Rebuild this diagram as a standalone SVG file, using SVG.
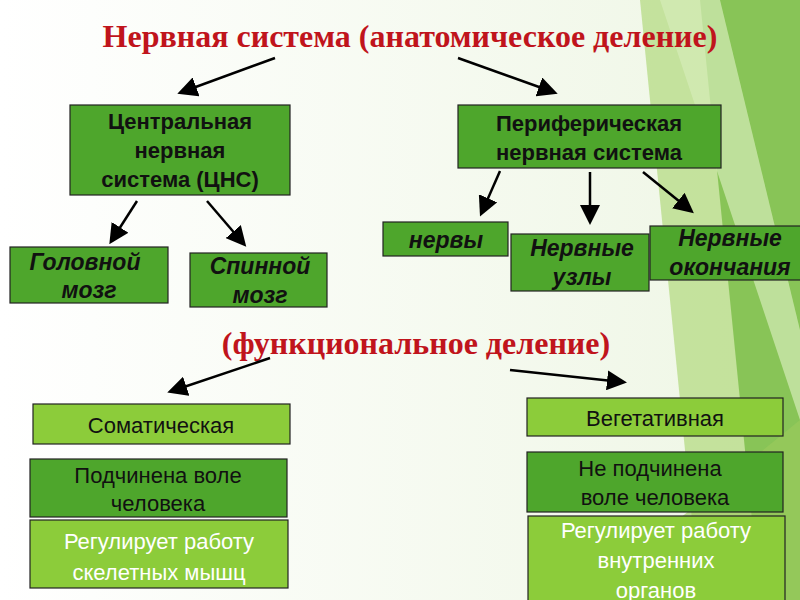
<svg xmlns="http://www.w3.org/2000/svg" width="800" height="600" viewBox="0 0 800 600">
<defs>
<marker id="ah" markerWidth="8" markerHeight="8" refX="6" refY="4" orient="auto" markerUnits="strokeWidth"><path d="M0,0 L8,4 L0,8 Z" fill="#000"/></marker>
<linearGradient id="bg" x1="0" y1="0" x2="1" y2="0"><stop offset="0" stop-color="#fff"/><stop offset="1" stop-color="#eef6e4"/></linearGradient>
</defs>
<style>
.t{font-family:"Liberation Serif",serif;font-weight:bold;fill:#c0141c;font-size:32px;text-anchor:middle}
.b{stroke:#222;stroke-width:1.2}
.g{fill:#4ea62c}.l{fill:#8ccc3a}
.n{font-family:"Liberation Sans",Arial,sans-serif;font-weight:bold;font-size:22px;fill:#111;text-anchor:middle}
.i{font-family:"Liberation Sans",Arial,sans-serif;font-weight:bold;font-style:italic;font-size:23px;fill:#111;text-anchor:middle}
.r{font-family:"Liberation Sans",Arial,sans-serif;font-size:22px;fill:#111;text-anchor:middle}
.w{fill:#fff}
.c line{stroke:#000;stroke-width:2.5;marker-end:url(#ah)}
</style>
<rect width="800" height="600" fill="url(#bg)"/>
<polygon points="640,0 800,0 800,600 700,600" fill="#a6d36a" opacity="0.6"/>
<polygon points="700,0 800,0 800,600 760,600" fill="#6fb83a" opacity="0.7"/>
<polygon points="660,0 720,0 800,330 800,420" fill="#d6ecb8" opacity="0.7"/>
<polygon points="580,600 800,420 800,600" fill="#9ccc5c" opacity="0.6"/>
<text class="t" x="410" y="47">Нервная система (анатомическое деление)</text>
<text class="t" x="416" y="354">(функциональное деление)</text>
<g class="c">
<line x1="275" y1="58" x2="182" y2="92"/>
<line x1="458" y1="58" x2="553" y2="92"/>
<line x1="137" y1="201" x2="112" y2="240"/>
<line x1="207" y1="201" x2="243" y2="243"/>
<line x1="500" y1="171" x2="482" y2="212"/>
<line x1="590" y1="172" x2="590" y2="220"/>
<line x1="643" y1="172" x2="690" y2="210"/>
<line x1="270" y1="358" x2="172" y2="391"/>
<line x1="510" y1="370" x2="622" y2="382"/>
</g>
<g id="cns"><rect class="b g" x="70" y="105" width="220" height="90"/><text class="n" x="180" y="129">Центральная</text><text class="n" x="180" y="158">нервная</text><text class="n" x="180" y="187">система (ЦНС)</text></g>
<g id="pns"><rect class="b g" x="458" y="105" width="263" height="63"/><text class="n" x="589" y="131">Периферическая</text><text class="n" x="589" y="160">нервная система</text></g>
<g id="brain"><rect class="b g" x="10" y="247" width="158" height="56"/><text class="i" x="85" y="270">Головной</text><text class="i" x="89" y="298">мозг</text></g>
<g id="spine"><rect class="b g" x="190" y="253" width="137" height="54"/><text class="i" x="260" y="274">Спинной</text><text class="i" x="260" y="303">мозг</text></g>
<g id="nerves"><rect class="b g" x="383" y="222" width="125" height="34"/><text class="i" x="446" y="248">нервы</text></g>
<g id="ganglia"><rect class="b g" x="511" y="234" width="138" height="57"/><text class="i" x="582" y="256">Нервные</text><text class="i" x="582" y="285">узлы</text></g>
<g id="endings"><rect class="b g" x="650" y="226" width="155" height="54"/><text class="i" x="730" y="246">Нервные</text><text class="i" x="730" y="275">окончания</text></g>
<g id="somatic"><rect class="b l" x="33" y="404" width="257" height="40"/><text class="r" x="161" y="433">Соматическая</text></g>
<g id="som2"><rect class="b g" x="30" y="459" width="257" height="58"/><text class="r" x="158" y="483">Подчинена воле</text><text class="r" x="158" y="511">человека</text></g>
<g id="som3"><rect class="b l" x="30" y="520" width="258" height="68"/><text class="r w" x="159" y="549">Регулирует работу</text><text class="r w" x="159" y="580">скелетных мышц</text></g>
<g id="veg"><rect class="b l" x="527" y="398" width="256" height="38"/><text class="r" x="655" y="426">Вегетативная</text></g>
<g id="veg2"><rect class="b g" x="527" y="452" width="256" height="60"/><text class="r" x="650" y="476">Не подчинена</text><text class="r" x="655" y="505">воле человека</text></g>
<g id="veg3"><rect class="b l" x="528" y="516" width="257" height="90"/><text class="r w" x="656" y="538">Регулирует работу</text><text class="r w" x="656" y="568">внутренних</text><text class="r w" x="656" y="598">органов</text></g>
</svg>
